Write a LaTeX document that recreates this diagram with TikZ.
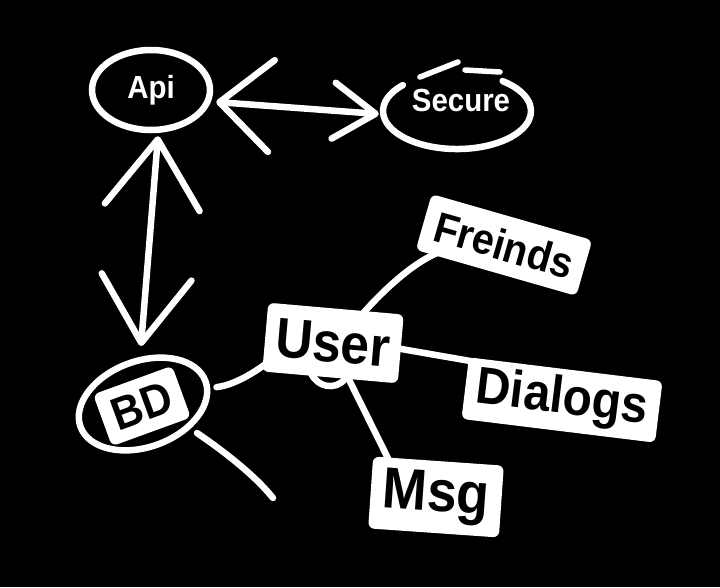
\documentclass[tikz,border=0pt]{standalone}
\usepackage{fontspec}
\setmainfont{Liberation Sans}
\newfontfamily\tagfont[FakeStretch=0.92]{Liberation Sans}
\usetikzlibrary{shapes.geometric,arrows.meta}
\pgfdeclarelayer{bg}
\pgfdeclarelayer{back}
\pgfsetlayers{bg,back,main}
\newcommand\setfs[1]{\tagfont\fontsize{#1pt}{#1pt}\selectfont\bfseries}
\tikzset{
  ink/.style={draw=white, line width=6.5pt, line cap=round, line join=round},
  ring/.style={ellipse, draw=white, line width=6.5pt, inner sep=0pt},
  tag/.style={fill=white, text=black, rounded corners=6pt, inner sep=0pt},
}
\begin{document}
\begin{tikzpicture}[x=1pt,y=-1pt]
\useasboundingbox (0,0) rectangle (720,587);
\begin{pgfonlayer}{bg}
\fill[black] (0,0) rectangle (720,587);
\end{pgfonlayer}

% nodes
\node[ring, minimum width=118pt, minimum height=80pt, text=white, font=\setfs{32}] (api) at (151,90) {Api};
\node[ellipse, inner sep=0pt, minimum width=148pt, minimum height=76pt, text=white, font=\setfs{32}] (sec) at (461,100) {Secure};
\draw[ink] ([shift={(-58.1,-14.9)}]sec.center) arc[start angle=137, end angle=412, x radius=74pt, y radius=38pt];
\draw[ink, line width=5.5pt] ([shift={(-41,-23)}]sec.center) -- ([shift={(-3,-38)}]sec.center);
\draw[ink, line width=5.5pt] ([shift={(4,-30)}]sec.center) -- ([shift={(39,-28)}]sec.center);

\node[ring, rotate=20, minimum width=133pt, minimum height=86pt] (bd) at (143,404) {};
\node[tag, rotate=20, minimum width=84pt, minimum height=55pt, font=\setfs{46}] (bdl) at (142,406) {BD};

\node[tag, rotate=-5, minimum width=136pt, minimum height=69pt, font=\setfs{56}] (user) at (333,343) {User};
\node[tag, rotate=-16, minimum width=167pt, minimum height=58pt, font=\setfs{43}] (fr) at (504,245) {Freinds};
\node[tag, rotate=-7, minimum width=195pt, minimum height=62pt, font=\setfs{52}] (dlg) at (562,400) {Dialogs};
\node[tag, rotate=-4, minimum width=131pt, minimum height=72pt, font=\setfs{58}] (msg) at (436,497) {Msg};
\coordinate (tail) at (273,498);

% connectors
\begin{pgfonlayer}{back}
\draw[ink, {Straight Barb[length=52pt,width=92pt,round]}-{Straight Barb[length=42pt,width=56pt,round]}]
  ([shift={(3,12)}]api.east) -- ([shift={(-8,14)}]sec.west);
\draw[ink, {Straight Barb[length=68pt,width=95pt,round]}-{Straight Barb[length=66pt,width=90pt,round]}]
  ([shift={(7,3)}]api.south) -- ([shift={(-2,-58)}]bd.center);
\draw[ink] ([shift={(8,7)}]bd.east) .. controls +(18,-2) and +(-12,10) .. ([shift={(4,24)}]user.west);
\draw[ink] ([shift={(54,29)}]bd.center) .. controls +(22,15) and +(-20,-25) .. (tail);
\draw[ink] ([shift={(26,6)}]user.north) .. controls +(22,-25) and +(-28,8) .. ([shift={(30,0)}]fr.south west);
\draw[ink] (user.east) -- ([shift={(8,5)}]dlg.north west);
\draw[ink] ([shift={(16,-4)}]user.south) -- ([shift={(16,4)}]msg.north west);
\draw[ink] ([shift={(-22,30)}]user.center) .. controls +(6,14) and +(-10,12) .. ([shift={(12,36)}]user.center);
\end{pgfonlayer}
\end{tikzpicture}
\end{document}
